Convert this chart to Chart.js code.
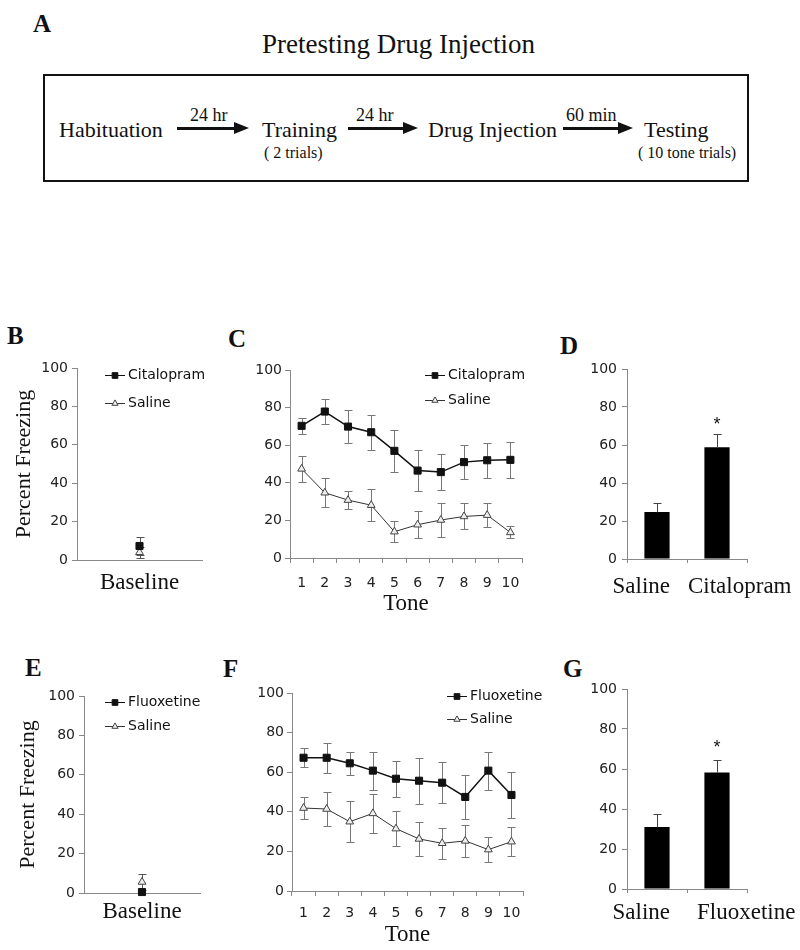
<!DOCTYPE html>
<html>
<head>
<meta charset="utf-8">
<script src="https://cdn.jsdelivr.net/npm/chart.js@4.4.0/dist/chart.umd.min.js"></script>
<style>
body { margin: 0; background: #fff; }
#page { position: relative; width: 800px; height: 950px; overflow: hidden; background: #fff; }
.t { position: absolute; white-space: nowrap; font-family: "Liberation Serif", "Times New Roman", serif; color: #111; line-height: 1; }
.lbl { position: absolute; font-family: "Liberation Serif", serif; font-weight: bold; font-size: 25px; line-height: 1; color: #111; }
.box { position: absolute; left: 43px; top: 74px; width: 702px; height: 104px; border: 2px solid #111; }
.shaft { position: absolute; height: 3px; background: #111; }
.head { position: absolute; width: 0; height: 0; border-top: 6.5px solid transparent; border-bottom: 6.5px solid transparent; border-left: 15px solid #111; }
canvas { position: absolute; }
</style>
</head>
<body>
<div id="page">
  <!-- panel A: protocol timeline -->
  <div class="lbl" style="left:33px;top:11px;">A</div>
  <div class="t" style="left:262px;top:31px;font-size:27px;">Pretesting Drug Injection</div>
  <div class="box"></div>
  <div class="t" style="left:59px;top:119px;font-size:22px;">Habituation</div>
  <div class="t" style="left:190px;top:106px;font-size:18px;">24 hr</div>
  <div class="shaft" style="left:177px;top:126.5px;width:58px;"></div>
  <div class="head" style="left:234px;top:121.5px;"></div>
  <div class="t" style="left:262px;top:119px;font-size:22px;">Training</div>
  <div class="t" style="left:264px;top:145px;font-size:16px;">( 2 trials)</div>
  <div class="t" style="left:356px;top:106px;font-size:18px;">24 hr</div>
  <div class="shaft" style="left:348px;top:126.5px;width:56px;"></div>
  <div class="head" style="left:403px;top:121.5px;"></div>
  <div class="t" style="left:428px;top:119px;font-size:22px;">Drug Injection</div>
  <div class="t" style="left:566px;top:106px;font-size:18px;">60 min</div>
  <div class="shaft" style="left:563px;top:126.5px;width:56px;"></div>
  <div class="head" style="left:618px;top:121.5px;"></div>
  <div class="t" style="left:644px;top:119px;font-size:22px;">Testing</div>
  <div class="t" style="left:638px;top:145px;font-size:16px;">( 10 tone trials)</div>

  <div class="lbl" style="left:7px;top:323px;">B</div>
  <div class="lbl" style="left:228px;top:326px;">C</div>
  <div class="lbl" style="left:560px;top:333px;">D</div>
  <div class="lbl" style="left:25px;top:655px;">E</div>
  <div class="lbl" style="left:223px;top:656px;">F</div>
  <div class="lbl" style="left:563px;top:656px;">G</div>

  <canvas id="chartB"></canvas>
  <canvas id="chartC"></canvas>
  <canvas id="chartD"></canvas>
  <canvas id="chartE"></canvas>
  <canvas id="chartF"></canvas>
  <canvas id="chartG"></canvas>
</div>

<script>
// ---- data (percent freezing) ----
const baselineLabels = ['Baseline'];
const tones = ['1', '2', '3', '4', '5', '6', '7', '8', '9', '10'];

// citalopram experiment
const citalopramBaseline = [7.3];
const citalopramBaselineErr = [4.8];
const salineBaselineB = [4.0];
const salineBaselineBErr = [3.0];

const citalopramTone = [70.3, 77.9, 69.9, 66.9, 57.0, 46.5, 45.7, 51.0, 52.0, 52.2];
const citalopramToneErr = [4.4, 6.7, 8.9, 9.2, 11.0, 11.0, 9.5, 9.0, 9.2, 9.6];
const salineToneC = [47.4, 34.7, 30.8, 28.1, 14.0, 17.7, 20.2, 22.1, 22.8, 13.6];
const salineToneCErr = [7.0, 7.6, 4.8, 8.5, 5.6, 7.1, 8.8, 6.9, 6.2, 3.2];

const groupsD = ['Saline', 'Citalopram'];
const meansD = [24.7, 58.8];
const errD = [4.8, 7.0];
const sigD = [false, true];

// fluoxetine experiment
const fluoxetineBaseline = [0.5];
const fluoxetineBaselineErr = [0];
const salineBaselineE = [5.6];
const salineBaselineEErr = [4.2];

const fluoxetineTone = [67.3, 67.3, 64.5, 60.8, 56.7, 55.7, 54.7, 47.5, 60.8, 48.5];
const fluoxetineToneErr = [4.8, 7.6, 5.7, 9.6, 9.1, 11.6, 10.5, 11.3, 9.6, 11.8];
const salineToneF = [41.9, 41.4, 35.0, 39.2, 31.5, 26.3, 24.1, 25.3, 20.9, 24.9];
const salineToneFErr = [5.7, 8.6, 10.5, 10.0, 8.9, 8.7, 7.7, 8.2, 6.2, 7.4];

const groupsG = ['Saline', 'Fluoxetine'];
const meansG = [31.0, 58.3];
const errG = [6.5, 6.4];
const sigG = [false, true];

// ---- common setup ----
Chart.defaults.animation = false;
Chart.defaults.font.family = '"DejaVu Sans", sans-serif';
Chart.defaults.plugins.legend.display = false;
Chart.defaults.plugins.tooltip.enabled = false;

const AXIS = '#888';
const TICK_FONT = { family: '"DejaVu Sans", sans-serif', size: 14 };
const SERIF = '"Liberation Serif", "Times New Roman", serif';

// error bars: drawn under the markers for line charts, over the bars (upper half only) for bar charts
function drawErrors(chart, opts) {
    const ctx = chart.ctx;
    const y = chart.scales.y;
    ctx.save();
    ctx.strokeStyle = opts.color;
    ctx.lineWidth = 1;
    chart.data.datasets.forEach((ds, di) => {
        if (!ds.errors) return;
        chart.getDatasetMeta(di).data.forEach((el, i) => {
            const v = ds.data[i], e = ds.errors[i];
            if (!e) return;
            const x = Math.round(el.x) + 0.5;
            const top = Math.round(y.getPixelForValue(v + e)) + 0.5;
            const bot = Math.round(y.getPixelForValue(opts.upOnly ? v : Math.max(v - e, 0))) + 0.5;
            ctx.beginPath();
            ctx.moveTo(x, top);
            ctx.lineTo(x, bot);
            ctx.moveTo(x - opts.cap, top);
            ctx.lineTo(x + opts.cap, top);
            if (!opts.upOnly) {
                ctx.moveTo(x - opts.cap, bot);
                ctx.lineTo(x + opts.cap, bot);
            }
            ctx.stroke();
        });
    });
    ctx.restore();
}

const errorBars = {
    id: 'errorBars',
    beforeDatasetsDraw(chart, args, opts) { if (!opts.upOnly) drawErrors(chart, opts); },
    afterDatasetsDraw(chart, args, opts) { if (opts.upOnly) drawErrors(chart, opts); }
};

// legend drawn inside the plot area, one row per dataset
const innerLegend = {
    id: 'innerLegend',
    afterDraw(chart, args, opts) {
        if (opts.x === undefined) return;
        const ctx = chart.ctx, a = chart.chartArea;
        ctx.save();
        chart.data.datasets.forEach((ds, i) => {
            const x = a.left + opts.x, y = Math.round(a.top + opts.y + i * opts.gap) + 0.5;
            ctx.strokeStyle = ds.borderColor;
            ctx.lineWidth = 1;
            ctx.beginPath();
            ctx.moveTo(x, y);
            ctx.lineTo(x + 20, y);
            ctx.stroke();
            ctx.fillStyle = ds.pointBackgroundColor;
            ctx.strokeStyle = ds.pointBorderColor;
            Chart.helpers.drawPoint(ctx, { pointStyle: ds.pointStyle, radius: ds.pointRadius * 0.8, borderWidth: 1 }, x + 10, y);
            ctx.fillStyle = '#111';
            ctx.font = '14px "DejaVu Sans", sans-serif';
            ctx.textBaseline = 'middle';
            ctx.fillText(ds.label, x + 23, y);
        });
        ctx.restore();
    }
};

// group names under the bars and significance stars above them
const barNotes = {
    id: 'barNotes',
    afterDraw(chart, args, opts) {
        if (opts.offset === undefined) return;
        const ctx = chart.ctx, xs = chart.scales.x, ys = chart.scales.y, a = chart.chartArea;
        const mid = (xs.getPixelForValue(0) + xs.getPixelForValue(1)) / 2;
        ctx.save();
        ctx.fillStyle = '#111';
        ctx.font = '23px ' + SERIF;
        ctx.textBaseline = 'middle';
        chart.data.labels.forEach((lab, i) => {
            ctx.textAlign = i === 0 ? 'right' : 'left';
            ctx.fillText(lab, i === 0 ? mid - opts.gapLeft : mid + opts.gapRight, a.bottom + opts.offset);
        });
        const ds = chart.data.datasets[0];
        ctx.font = '18px "Liberation Sans", sans-serif';
        ctx.textAlign = 'center';
        ctx.textBaseline = 'alphabetic';
        ds.significant.forEach((s, i) => {
            if (!s) return;
            const top = ys.getPixelForValue(ds.data[i] + ds.errors[i]);
            ctx.fillText('*', xs.getPixelForValue(i), top - opts.starGap + 10);
        });
        ctx.restore();
    }
};

// place a canvas so that its plot area lands on the given box
function mount(id, area, yw, xh, pr) {
    const pt = 14;
    const cv = document.getElementById(id);
    cv.width = area.r - area.l + yw + pr;
    cv.height = area.b - area.t + pt + xh;
    cv.style.left = (area.l - yw) + 'px';
    cv.style.top = (area.t - pt) + 'px';
    return { canvas: cv, padding: { top: pt, right: pr, left: 0, bottom: 0 } };
}

function yAxis(width, pad, titlePad) {
    return {
        min: 0, max: 100,
        ticks: { stepSize: 20, color: '#222', padding: pad, font: TICK_FONT },
        grid: { drawOnChartArea: false, drawTicks: true, tickLength: 5, color: AXIS },
        border: { display: true, color: AXIS, width: 1 },
        title: titlePad === undefined ? { display: false } : {
            display: true, text: 'Percent Freezing', color: '#111',
            font: { family: SERIF, size: 22 }, padding: { top: titlePad, bottom: 0 }
        },
        afterFit(s) { s.width = width; }
    };
}

function drugSet(label, data, errors) {
    return {
        label, data, errors, clip: false,
        borderColor: '#111', backgroundColor: '#111', borderWidth: 1.5,
        pointStyle: 'rect', pointRadius: 5, pointBorderWidth: 1,
        pointBackgroundColor: '#111', pointBorderColor: '#111'
    };
}

function salineSet(label, data, errors) {
    return {
        label, data, errors, clip: false,
        borderColor: '#333', backgroundColor: '#eee', borderWidth: 1,
        pointStyle: 'triangle', pointRadius: 4.5, pointBorderWidth: 1,
        pointBackgroundColor: '#eee', pointBorderColor: '#444'
    };
}

function baselineChart(id, area, yw, titlePad, labelPad, drug, drugErr, drugName, sal, salErr, legend) {
    const m = mount(id, area, yw, 45, 26);
    return new Chart(m.canvas, {
        type: 'line',
        data: {
            labels: baselineLabels,
            datasets: [drugSet(drugName, drug, drugErr), salineSet('Saline', sal, salErr)]
        },
        options: {
            responsive: false,
            layout: { padding: m.padding },
            scales: {
                x: {
                    type: 'category', offset: true,
                    grid: { display: true, drawOnChartArea: false, drawTicks: false, color: AXIS },
                    border: { display: true, color: AXIS, width: 1 },
                    ticks: { color: '#111', padding: labelPad, font: { family: SERIF, size: 23 } },
                    afterFit(s) { s.height = 45; }
                },
                y: yAxis(yw, 4, titlePad)
            },
            plugins: {
                errorBars: { color: '#555', cap: 4, upOnly: false },
                innerLegend: legend
            }
        },
        plugins: [errorBars, innerLegend]
    });
}

function toneChart(id, area, xh, labelPad, drug, drugErr, drugName, sal, salErr, legend) {
    const m = mount(id, area, 45, xh, 26);
    return new Chart(m.canvas, {
        type: 'line',
        data: {
            labels: tones,
            datasets: [drugSet(drugName, drug, drugErr), salineSet('Saline', sal, salErr)]
        },
        options: {
            responsive: false,
            layout: { padding: m.padding },
            scales: {
                x: {
                    type: 'category', offset: true,
                    grid: { offset: true, drawOnChartArea: false, drawTicks: true, tickLength: 5, color: AXIS },
                    border: { display: true, color: AXIS, width: 1 },
                    ticks: { color: '#222', padding: labelPad, font: TICK_FONT, autoSkip: false, maxRotation: 0 },
                    title: { display: true, text: 'Tone', color: '#111', font: { family: SERIF, size: 23 }, padding: 0 },
                    afterFit(s) { s.height = xh; }
                },
                y: yAxis(45, 3)
            },
            plugins: {
                errorBars: { color: '#777', cap: 4, upOnly: false },
                innerLegend: legend
            }
        },
        plugins: [errorBars, innerLegend]
    });
}

function barChart(id, area, groups, means, errors, sig, notes) {
    const m = mount(id, area, 45, 45, 52);
    return new Chart(m.canvas, {
        type: 'bar',
        data: {
            labels: groups,
            datasets: [{
                data: means, errors, significant: sig,
                backgroundColor: '#000', borderWidth: 0,
                categoryPercentage: 0.42, barPercentage: 1
            }]
        },
        options: {
            responsive: false,
            layout: { padding: m.padding },
            scales: {
                x: {
                    type: 'category', offset: true,
                    grid: { offset: true, drawOnChartArea: false, drawTicks: true, tickLength: 4, color: AXIS },
                    border: { display: true, color: AXIS, width: 1 },
                    ticks: { display: false },
                    afterFit(s) { s.height = 45; }
                },
                y: yAxis(45, 5)
            },
            plugins: {
                errorBars: { color: '#444', cap: 4, upOnly: true },
                barNotes: notes
            }
        },
        plugins: [errorBars, barNotes]
    });
}

// ---- panels ----
baselineChart('chartB', { l: 77, t: 368, r: 202, b: 560 }, 77, 11, 9,
    citalopramBaseline, citalopramBaselineErr, 'Citalopram', salineBaselineB, salineBaselineBErr,
    { x: 28, y: 7, gap: 28 });

toneChart('chartC', { l: 290, t: 370, r: 522, b: 558 }, 60, 12,
    citalopramTone, citalopramToneErr, 'Citalopram', salineToneC, salineToneCErr,
    { x: 135, y: 5, gap: 25 });

barChart('chartD', { l: 627, t: 369, r: 747, b: 559 }, groupsD, meansD, errD, sigD,
    { offset: 28, gapLeft: 17, gapRight: 1, starGap: 14 });

baselineChart('chartE', { l: 84, t: 696, r: 200, b: 893 }, 84, 15, 5,
    fluoxetineBaseline, fluoxetineBaselineErr, 'Fluoxetine', salineBaselineE, salineBaselineEErr,
    { x: 21, y: 6, gap: 24 });

toneChart('chartF', { l: 292, t: 693, r: 523, b: 891 }, 58, 9,
    fluoxetineTone, fluoxetineToneErr, 'Fluoxetine', salineToneF, salineToneFErr,
    { x: 155, y: 3, gap: 23 });

barChart('chartG', { l: 627, t: 689, r: 747, b: 889 }, groupsG, meansG, errG, sigG,
    { offset: 24, gapLeft: 17, gapRight: 10, starGap: 17 });
</script>
</body>
</html>
